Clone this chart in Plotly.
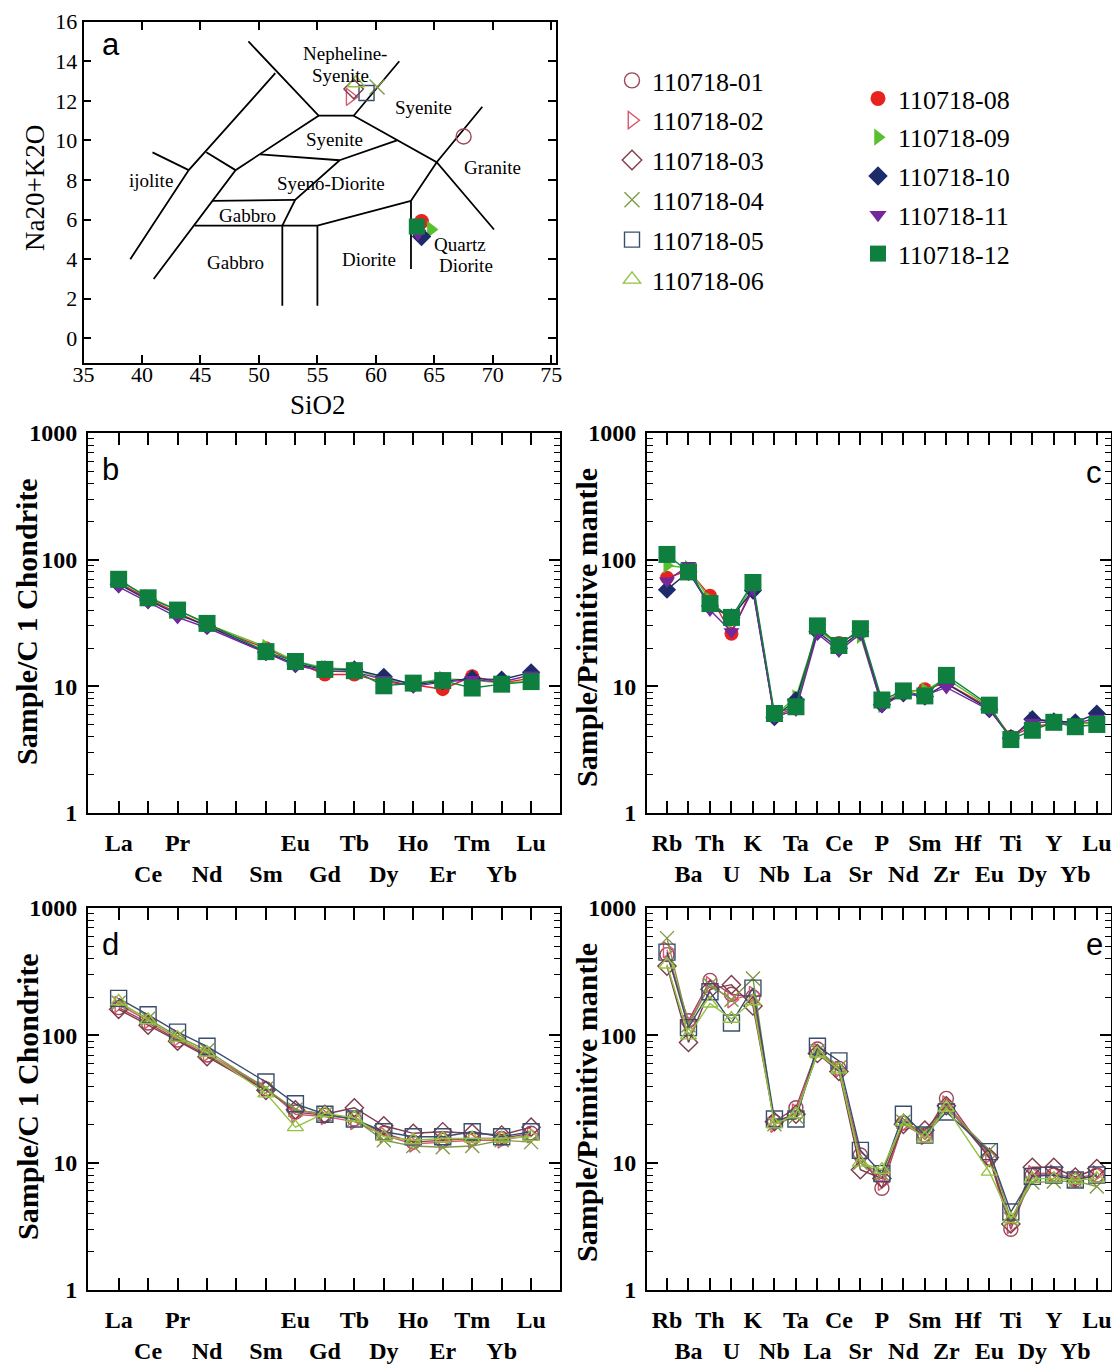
import plotly.graph_objects as go

# The page body adds an 8px margin; the figure is sized/offset to fill the 1120x1367 window.
OFF = 8
W, H = 1120 - OFF, 1367 - OFF
SERIF = "Liberation Serif, Times New Roman, serif"
SANS = "Liberation Sans, Arial, sans-serif"

# ---------------- data ----------------
open_ids = ["110718-01", "110718-02", "110718-03", "110718-04", "110718-05", "110718-06"]
filled_ids = ["110718-08", "110718-09", "110718-10", "110718-11", "110718-12"]

# TAS diagram (panel a)
tas_sio2_open = [67.5, 57.8, 58.1, 60.1, 59.2, 58.3]
tas_alk_open = [10.2, 12.2, 12.6, 12.7, 12.4, 12.9]
tas_sio2_filled = [63.9, 64.7, 63.9, 63.6, 63.5]
tas_alk_filled = [5.9, 5.5, 5.15, 5.3, 5.65]

tas_x_ticks = [35, 40, 45, 50, 55, 60, 65, 70, 75]
tas_y_ticks = [0, 2, 4, 6, 8, 10, 12, 14, 16]

# TAS field boundaries (SiO2, Na2O+K2O)
tas_bound_x = [
    [39.0, 44.0, 51.4],
    [40.9, 44.0],
    [45.5, 48.0],
    [41.0, 48.0, 55.1],
    [49.1, 55.1, 58.1, 62.0],
    [58.1, 65.2, 70.1],
    [69.1, 65.2, 63.0, 63.0],
    [61.8, 56.9, 53.1, 52.0],
    [50.1, 56.9],
    [46.0, 53.1],
    [44.5, 55.0, 63.0],
    [52.0, 52.0],
    [55.0, 55.0],
]
tas_bound_y = [
    [4.0, 8.5, 13.4],
    [9.4, 8.5],
    [9.4, 8.5],
    [3.0, 8.5, 11.25],
    [15.0, 11.25, 11.25, 14.0],
    [11.25, 8.9, 5.5],
    [11.7, 8.9, 6.95, 3.5],
    [10.0, 9.0, 7.0, 5.7],
    [9.3, 9.0],
    [6.95, 7.0],
    [5.7, 5.7, 6.95],
    [5.7, 1.65],
    [5.7, 1.65],
]
tas_field_names = ["Nepheline-", "Syenite", "Syenite", "Syenite", "Granite", "ijolite",
                   "Syeno-Diorite", "Gabbro", "Gabbro", "Diorite", "Quartz", "Diorite"]
tas_field_x = [57.4, 57.0, 64.1, 56.5, 70.0, 40.8, 56.2, 49.0, 48.0, 59.4, 67.2, 67.7]
tas_field_y = [14.4, 13.3, 11.65, 10.05, 8.65, 8.0, 7.8, 6.2, 3.85, 4.0, 4.75, 3.7]

# REE chondrite-normalised (panels b, d)
ree = ["La", "Ce", "Pr", "Nd", "Pm", "Sm", "Eu", "Gd", "Tb", "Dy", "Ho", "Er", "Tm", "Yb", "Lu"]
ree_shown = ["La", "Ce", "Pr", "Nd", "", "Sm", "Eu", "Gd", "Tb", "Dy", "Ho", "Er", "Tm", "Yb", "Lu"]

b_08 = [66, 49, 38, 30, None, 20.0, 15.5, 12.4, 12.4, 10.8, 10.3, 9.5, 12.0, 10.6, 11.6]
b_09 = [68, 51, 40, 31, None, 20.5, 15.8, 14.0, 13.6, 11.4, 10.5, 11.5, 11.2, 10.6, 11.0]
b_10 = [64, 48, 37, 30, None, 18.6, 15.0, 13.6, 13.6, 11.9, 10.3, 11.0, 11.5, 11.3, 12.9]
b_11 = [61, 46, 35, 29, None, 18.2, 14.6, 13.2, 13.0, 11.3, 10.0, 10.8, 11.3, 10.8, 12.3]
b_12 = [70, 50, 40, 31.4, None, 18.8, 15.7, 13.6, 13.3, 10.1, 10.6, 11.1, 9.7, 10.4, 10.9]

d_01 = [165, 125, 92, 70, None, 38, 25, 23.5, 22, 17, 14.5, 15, 15.5, 15.5, 17]
d_02 = [175, 130, 95, 72, None, 39, 24, 23, 21, 16.5, 14, 14.5, 15, 15, 16.5]
d_03 = [160, 120, 90, 68, None, 37, 26, 24, 27, 19.5, 17, 17.5, 17, 16.5, 19]
d_04 = [180, 135, 98, 76, None, 38, 26, 24, 22, 15, 13.5, 13.2, 13.5, 15, 14.5]
d_05 = [195, 145, 106, 82, None, 43, 29, 24, 22, 17.5, 16, 16, 17.5, 16, 17.5]
d_06 = [185, 132, 96, 73, None, 35, 19, 24.5, 22.5, 16, 15, 15.5, 15.5, 15.5, 16]

# Trace elements primitive-mantle-normalised (panels c, e)
spd = ["Rb", "Ba", "Th", "U", "K", "Nb", "Ta", "La", "Ce", "Sr", "P", "Nd", "Sm", "Zr", "Hf",
       "Eu", "Ti", "Dy", "Y", "Yb", "Lu"]

c_08 = [72, 82, 52, 26, 62, 5.8, 6.8, 28, 22, 27, 7.4, 9.0, 9.5, 10.6, None, 6.8, 4.0, 4.8, 5.1, 5.0, 5.3]
c_09 = [90, 86, 48, 33, 63, 5.9, 8.2, 28, 21, 25, 7.1, 9.1, 9.3, 11.5, None, 6.9, 3.9, 5.5, 5.3, 5.0, 5.2]
c_10 = [58, 80, 43, 35, 57, 5.7, 7.8, 27, 20, 27, 7.2, 8.8, 8.3, 10.5, None, 6.6, 3.9, 5.5, 5.3, 5.2, 6.1]
c_11 = [68, 90, 40, 27, 58, 5.7, 6.5, 26, 19, 26, 7.0, 8.7, 8.5, 9.8, None, 6.5, 4.0, 5.2, 5.2, 5.1, 5.6]
c_12 = [110, 80, 45, 35, 66, 6.1, 6.9, 30, 21, 28.5, 7.8, 9.2, 8.4, 12.2, None, 7.1, 3.8, 4.5, 5.2, 4.8, 5.0]

e_01 = [430, 130, 270, 210, 200, 21, 27, 78, 55, 11.5, 6.3, 20.5, 16.5, 32, None, 10.8, 3.0, 8.0, 8.0, 7.3, 8.0]
e_02 = [470, 125, 250, 190, 210, 20, 25, 75, 54, 11, 7.0, 20, 16, 29, None, 11.5, 3.2, 8.2, 8.3, 7.5, 8.2]
e_03 = [350, 88, 230, 250, 170, 21, 24, 72, 52, 8.8, 7.5, 20, 18, 28, None, 11, 3.3, 9.2, 9.2, 7.7, 9.0]
e_04 = [580, 120, 250, 190, 280, 20, 23, 75, 56, 10, 8.2, 21, 17, 27, None, 12.5, 3.6, 7.0, 7.1, 7.2, 6.5]
e_05 = [450, 115, 220, 125, 235, 22, 22, 82, 63, 12.5, 8.2, 24, 16.5, 25, None, 12.2, 4.1, 7.8, 8.0, 7.3, 8.0]
e_06 = [360, 100, 178, 135, 185, 20, 24, 72, 54, 10, 8.8, 21, 15.5, 27, None, 8.5, 3.6, 7.5, 7.5, 7.3, 7.5]

log_ticks = [1, 10, 100, 1000]
log_tick_text = ["1", "10", "100", "1000"]

# ---------------- styles ----------------
open_symbols = ["circle-open", "triangle-right-open", "diamond-open", "x-thin-open", "square-open", "triangle-up-open"]
open_colors = ["#9c4658", "#d9566e", "#7e3b4a", "#7f9a45", "#3b4d6e", "#93c23f"]
filled_symbols = ["circle", "triangle-right", "diamond", "triangle-down", "square"]
filled_colors = ["#e8231f", "#58bf2f", "#1d2b6b", "#72279a", "#0f7f3f"]

b_sets = [b_08, b_09, b_10, b_11, b_12]
c_sets = [c_08, c_09, c_10, c_11, c_12]
d_sets = [d_01, d_02, d_03, d_04, d_05, d_06]
e_sets = [e_01, e_02, e_03, e_04, e_05, e_06]

fig = go.Figure()

# ---- panel a ----
for xs, ys in zip(tas_bound_x, tas_bound_y):
    fig.add_trace(go.Scatter(x=xs, y=ys, mode="lines", line=dict(color="black", width=1.8),
                             showlegend=False, hoverinfo="skip", xaxis="x", yaxis="y"))

for i, name in enumerate(open_ids):
    fig.add_trace(go.Scatter(
        x=[tas_sio2_open[i]], y=[tas_alk_open[i]], mode="markers", name=name,
        marker=dict(symbol=open_symbols[i], size=15, color=open_colors[i],
                    line=dict(color=open_colors[i], width=1.4)),
        legend="legend", legendgroup=name, xaxis="x", yaxis="y"))
for i, name in enumerate(filled_ids):
    fig.add_trace(go.Scatter(
        x=[tas_sio2_filled[i]], y=[tas_alk_filled[i]], mode="markers", name=name,
        marker=dict(symbol=filled_symbols[i], size=15 if i < 4 else 16, color=filled_colors[i],
                    line=dict(width=0)),
        legend="legend2", legendgroup=name, xaxis="x", yaxis="y"))

# ---- spider panels ----
def add_series(cats, sets, names, symbols, colors, xa, ya, filled):
    for i, vals in enumerate(sets):
        if filled:
            size = 17 if symbols[i] == "square" else 14
            mk = dict(symbol=symbols[i], size=size, color=colors[i], line=dict(width=0))
        else:
            size = 16 if symbols[i] == "square-open" else 14
            mk = dict(symbol=symbols[i], size=size, color=colors[i],
                      line=dict(color=colors[i], width=1.4))
        fig.add_trace(go.Scatter(
            x=cats, y=vals, mode="lines+markers", connectgaps=True, name=names[i],
            line=dict(color=colors[i], width=1.4), marker=mk, showlegend=False,
            xaxis=xa, yaxis=ya))

add_series(ree, b_sets, filled_ids, filled_symbols, filled_colors, "x2", "y2", True)
add_series(spd, c_sets, filled_ids, filled_symbols, filled_colors, "x3", "y3", True)
add_series(ree, d_sets, open_ids, open_symbols, open_colors, "x4", "y4", False)
add_series(spd, e_sets, open_ids, open_symbols, open_colors, "x5", "y5", False)

# ---------------- layout (positions given in window pixels) ----------------
def fx(px):
    return (px - OFF) / W

def fy(px):
    return 1 - (px - OFF) / H

def px_x(a, b):
    return [fx(a), fx(b)]

def px_y(top, bottom):
    return [fy(bottom), fy(top)]

def two_row(labels):
    out = []
    for i, t in enumerate(labels):
        out.append(t if i % 2 == 0 else "<br>" + t)
    return out

minor_vals = [m * 10 ** k for k in range(3) for m in range(2, 10)]

def cat_xaxis(domain, cats, shown, rng, anchor):
    return dict(domain=domain, anchor=anchor, type="category", categoryorder="array",
                categoryarray=cats, range=rng, tickmode="array", tickvals=cats,
                ticktext=two_row(shown), tickangle=0, automargin=False,
                ticks="inside", ticklen=12, tickwidth=1.6, tickcolor="black",
                showline=True, linewidth=2, linecolor="black", mirror="allticks",
                showgrid=False, zeroline=False, ticklabelstandoff=7,
                tickfont=dict(family=SERIF, size=24, color="black", weight="bold"))

def log_yaxis(domain, anchor):
    return dict(domain=domain, anchor=anchor, type="log", range=[0, 3], automargin=False,
                tickmode="array", tickvals=log_ticks, ticktext=log_tick_text,
                ticks="inside", ticklen=11, tickwidth=1.6, tickcolor="black",
                minor=dict(tickmode="array", tickvals=minor_vals, ticks="inside",
                           ticklen=6, tickwidth=1.4, tickcolor="black", showgrid=False),
                showline=True, linewidth=2, linecolor="black", mirror="allticks",
                showgrid=False, zeroline=False, ticklabelstandoff=4,
                tickfont=dict(family=SERIF, size=24, color="black", weight="bold"))

layout = dict(
    width=W, height=H, margin=dict(l=0, r=0, t=0, b=0, autoexpand=False),
    paper_bgcolor="white", plot_bgcolor="white",
    xaxis=dict(domain=px_x(83.5, 556), range=[35, 75.4], anchor="y", automargin=False,
               tickmode="array", tickvals=tas_x_ticks, ticks="inside", ticklen=8, tickangle=0,
               tickwidth=1.5, tickcolor="black", showline=True, linewidth=1.8,
               linecolor="black", mirror="allticks", showgrid=False, zeroline=False,
               ticklabelstandoff=-9, tickfont=dict(family=SERIF, size=22, color="black")),
    yaxis=dict(domain=px_y(21.7, 362.7), range=[-1.23, 16], anchor="x", automargin=False,
               tickmode="array", tickvals=tas_y_ticks, ticks="inside", ticklen=8,
               tickwidth=1.5, tickcolor="black", showline=True, linewidth=1.8,
               linecolor="black", mirror="allticks", showgrid=False, zeroline=False,
               ticklabelstandoff=0, tickfont=dict(family=SERIF, size=22, color="black")),
    xaxis2=cat_xaxis(px_x(88, 560), ree, ree_shown, [-1.04, 14.98], "y2"),
    yaxis2=log_yaxis(px_y(433, 813), "x2"),
    xaxis3=cat_xaxis(px_x(647, 1111), spd, spd, [-0.93, 20.66], "y3"),
    yaxis3=log_yaxis(px_y(433, 813), "x3"),
    xaxis4=cat_xaxis(px_x(88, 560), ree, ree_shown, [-1.04, 14.98], "y4"),
    yaxis4=log_yaxis(px_y(908, 1290), "x4"),
    xaxis5=cat_xaxis(px_x(647, 1111), spd, spd, [-0.93, 20.66], "y5"),
    yaxis5=log_yaxis(px_y(908, 1290), "x5"),
    legend=dict(x=fx(612), y=fy(57), xanchor="left", yanchor="top",
                font=dict(family=SERIF, size=26, color="black"), bgcolor="rgba(0,0,0,0)",
                traceorder="grouped", tracegroupgap=3, itemclick=False),
    legend2=dict(x=fx(858), y=fy(75), xanchor="left", yanchor="top",
                 font=dict(family=SERIF, size=26, color="black"), bgcolor="rgba(0,0,0,0)",
                 traceorder="grouped", tracegroupgap=2, itemclick=False),
)
fig.update_layout(**layout)

ann = []
def pann(text, x, y, size, family=SERIF, angle=0, weight="normal"):
    ann.append(dict(text=text, x=fx(x), y=fy(y), xref="paper", yref="paper", showarrow=False,
                    xanchor="center", yanchor="middle", textangle=angle,
                    font=dict(family=family, size=size, color="black", weight=weight)))

# panel letters
for t, x, y in [("a", 111, 45), ("b", 111, 470), ("c", 1094, 472), ("d", 111, 944), ("e", 1094, 944)]:
    pann(t, x, y, 31, family=SANS)
# TAS field names
for t, x, y in zip(tas_field_names, tas_field_x, tas_field_y):
    ann.append(dict(text=t, x=x, y=y, xref="x", yref="y", showarrow=False,
                    xanchor="center", yanchor="middle",
                    font=dict(family=SERIF, size=19, color="black")))
# axis titles
pann("Na20+K2O", 35, 188, 27, angle=-90)
pann("SiO2", 318, 405, 27)
for t, x, y in [("Sample/C 1 Chondrite", 27, 622), ("Sample/Primitive mantle", 586, 628),
                ("Sample/C 1 Chondrite", 27, 1097), ("Sample/Primitive mantle", 586, 1103)]:
    pann(t, x, y, 30, angle=-90, weight="bold")
fig.update_layout(annotations=ann)

fig.write_html("out.html")
